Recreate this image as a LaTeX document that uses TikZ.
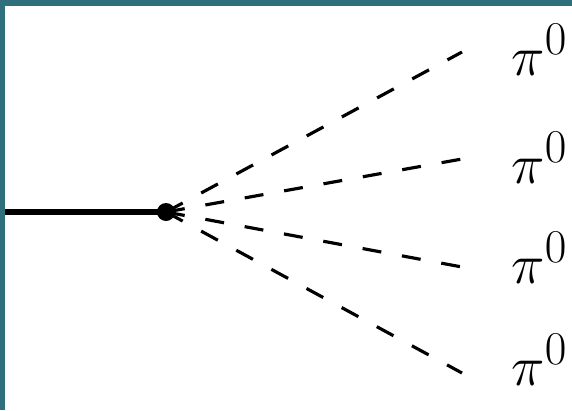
\documentclass[tikz,border=0pt]{standalone}
\usetikzlibrary{positioning}
\definecolor{frameteal}{RGB}{48,112,125}

\begin{document}
\begin{tikzpicture}[x=0.02cm,y=-0.02cm,
  pion/.style={anchor=base west,inner sep=0pt,font=\Huge,scale=1.29},
  decayline/.style={line width=1.8pt,dash pattern=on 0.38cm off 0.42cm}]
  \useasboundingbox (0,0) rectangle (572,410);
  \fill[frameteal] (0,0) rectangle (572,6);
  \fill[frameteal] (0,0) rectangle (5,410);
  \coordinate (in) at (5,212);
  \coordinate (vtx) at (166,212);
  \coordinate (e1) at (462,52);
  \coordinate (e2) at (462,159);
  \coordinate (e3) at (462,267);
  \coordinate (e4) at (462,373);
  \node[pion] (p1) at (511,75) {$\pi^0$};
  \node[pion] (p2) at (511,183) {$\pi^0$};
  \node[pion] (p3) at (511,283) {$\pi^0$};
  \node[pion] (p4) at (511,385) {$\pi^0$};
  \draw[line width=3pt] (in) -- (vtx);
  \foreach \i in {1,...,4} \draw[decayline] (vtx) -- (e\i);
  \node[circle,fill,inner sep=0pt,minimum size=0.36cm] (v) at (vtx) {};
\end{tikzpicture}
\end{document}
